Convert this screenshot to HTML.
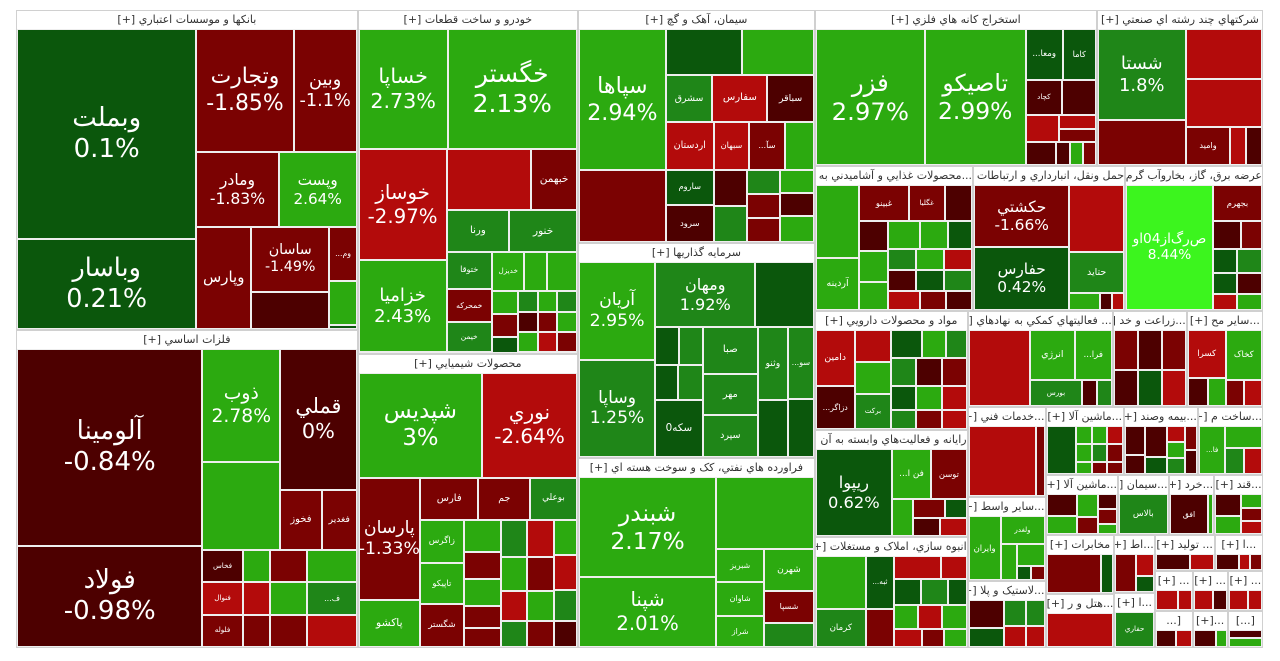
<!DOCTYPE html>
<html><head><meta charset="utf-8"><style>
html,body{margin:0;padding:0;background:#fff;width:1280px;height:661px;overflow:hidden}
#tm{position:absolute;left:16px;top:10px;width:1247px;height:638px;background:#e6e6e6}
.sec{position:absolute;box-sizing:border-box;border:1px solid #d0d0d0;background:#eee}
.hdr{position:absolute;left:0;right:0;top:0;height:18px;background:#fff;color:#333;font:11px "DejaVu Sans","Liberation Sans",sans-serif;line-height:18px;text-align:center;white-space:nowrap;overflow:hidden;direction:rtl}
.leaf{position:absolute;display:flex;flex-direction:column;align-items:center;justify-content:center;color:#fff;font-family:"DejaVu Sans","Liberation Sans",sans-serif;overflow:hidden;white-space:nowrap;line-height:1.2;text-align:center}
</style></head><body>
<div id="tm"></div>
<script>
const H=(...c)=>({d:'h',c});const V=(...c)=>({d:'v',c});const S=(t,hdr,n)=>({s:t,hdr:hdr,c:[n]});
const col1=V(
 S('بانکها و موسسات اعتباري [+]',65,
  H(V(['وبملت',0.1,376],['وباسار',0.21,162]),
    V(H(['وتجارت',-1.85,120],['وبين',-1.1,78]),
      H(['ومادر',-1.83,61],['وپست',2.64,58]),
      H(['وپارس',-1.76,56],V(['ساسان',-1.49,51],['',-0.5,29]),V(['...وم',-1.2,15],['...و',2.5,12],['',0.5,1]))))),
 S('فلزات اساسي [+]',65,
  H(V(['آلومينا',-0.84,365],['فولاد',-0.98,188]),
    V(H(V(['ذوب',2.78,88],['',2.5,68]),V(['قملي',0,108],H(['فخوز',-1.5,25],['فغدير',-1.3,21]))),
      H(V(['فخاس',-0.6,13],['فنوال',-2.5,13],['فلوله',-1.2,13]),V(['...م',2.4,9],['...فا',-2.5,9],['...ف',-1.5,9]),V(['...فج',-1.3,12],['',2.3,12],['',-1.1,12]),V(['',2.5,16],['...ف',1.2,16],['',-2.2,16]))))));
const col2=V(
 S('خودرو و ساخت قطعات [+]',42,
  V(H(['خساپا',2.73,107],['خگستر',2.13,156]),
    H(V(['خوساز',-2.97,98],['خزاميا',2.43,81]),
      V(H(['',-2.93,52],['خبهمن',-1.5,28]),H(['ورنا',1.5,26],['خنور',1.4,28]),
        H(V(['ختوقا',1.3,17],['خمحرکه',-1.4,15],['خيمن',1.2,14]),
          V(H(['خديزل',2.5,13],['خزر',2.3,9],['',2.4,12]),
            H(V(['...خ',2.2,6],['...خ',-1.8,6],['',0.5,4]),V(['',1.5,4],['',-0.8,4],['',2.5,4]),V(['',2.3,4],['',-1.2,4],['',-2.5,4]),V(['',1.3,4],['',2.4,4],['',-1.9,4])))))))),
 S('محصولات شيميايي [+]',42,
  V(H(['شپديس',3,130],['نوري',-2.64,100]),
    H(V(['پارسان',-1.33,75],['پاکشو',2.5,29]),
      V(H(['فارس',-1.5,25],['جم',-1.4,22],['بوعلي',1.5,20]),
        H(V(['زاگرس',2.3,19],['تاپيکو',2.4,18],['شگستر',-1.3,19]),
          V(['...ش',2.3,12],['...بار',-1.3,10],['...ش',2.2,10],['آريا',-1.2,8],['کلر',-1.4,7]),
          V(['...سو',1.3,10],['...پتر',2.5,9],['',-2.5,8],['',1.2,7]),
          V(['...ش',-2.5,10],['قرن',-1.5,9],['',2.2,8],['',-1.1,7]),
          V(['',2.4,8],['',-2.2,8],['',1.3,7],['',-0.7,6])))))));
const col3=V(
 S('سيمان، آهک و گچ [+]',45,
  H(V(['سپاها',2.94,123],['',-1.42,63]),
    V(H(['',0.5,35],['',2.5,33]),
      H(['سشرق',1.5,22],['سفارس',-2.5,26],['سباقر',-0.8,22]),
      H(['اردستان',-2.5,23],['سبهان',-2.3,17],['...سآ',-1.2,17],['',2.4,14]),
      H(V(['ساروم',0.6,17],['سرود',-0.7,18]),
        H(V(['',-0.7,12],['',1.5,12]),V(['',1.4,8],['',-1.2,8],['',-1.5,8]),V(['',2.3,8],['',-0.6,8],['',2.4,9])))))),
 S('سرمايه گذاريها [+]',45,
  H(V(['آريان',2.95,75],['وساپا',1.25,74]),
    V(H(['ومهان',1.92,65],['',0.6,38]),
      H(V(H(['',0.5,9],['',1.3,9]),H(['',0.6,8],['',1.2,9]),['سکه0',0.4,27]),
        V(['صبا',1.5,26],['مهر',1.4,23],['سپرد',1.3,23]),
        V(['وثنو',1.5,22],['',0.6,17]),
        V(['...سو',1.4,19],['',0.7,15]))))),
 S('فراورده هاي نفتي، کک و سوخت هسته اي [+]',45,
  H(V(['شبندر',2.17,138],['شپنا',2.01,97]),
    V(['',2.17,71],H(V(['شبريز',2.2,16],['شاوان',2.3,16],['شراز',2.2,15]),V(['شهرن',2.4,21],['شسپا',-1.4,16],['',1.2,12]))))));

const mining=S('استخراج کانه هاي فلزي [+]',53,
  H(['فزر',2.97,149],['تاصيکو',2.99,138],
    V(H(['...ومعا',0.6,19],['کاما',0.7,17]),
      H(['کچاد',-0.8,13],['...کرو',-0.7,12]),
      H(['کروي',-2.6,9],V(['',-2.4,5],['',-1.3,5])),
      H(['کگل',-0.6,7],H(['',-0.7,3],['',2.4,3],['',-1.3,3])))));
const multi=S('شرکتهاي چند رشته اي صنعتي [+]',31,
  H(V(['شستا',1.8,81],['',-1.34,40]),
    V(['',-2.56,39],['',-2.6,37],H(['واميد',-1,17],['',-2.3,6],['',-0.7,6]))));
const topRow=H(mining,multi);

const foodGrid=V(H(['...به',2.3,9],['...غ',2.2,8],['...غ',0.7,7]),H(['',1.4,6],['',2.2,6],['',-2.5,6]),H(['',-0.8,6],['',0.6,6],['',1.3,6]),H(['',-2.4,6],['',-1.3,5],['',-0.7,5]));
const food=S('...محصولات غذايي و آشاميدني به [+]',29,
  H(V(['',2.4,32],['آردينه',2.3,23]),
    V(H(['غبينو',-1.5,18],['غگليا',-1.4,13],['...غ',-0.7,10]),
      H(V(['...عا',-0.8,9],['...غ',2.3,9],['غادر',2.2,8]),foodGrid))));
const transport=S('حمل ونقل، انبارداري و ارتباطات [+]',29,
  H(V(['حکشتي',-1.66,60],['حفارس',0.42,60]),
    V(['',-2.4,37],['حتايد',1.5,23],H(['',2.3,5],['',-0.8,2],['',-2.4,2]))));
const util=S('عرضه برق، گاز، بخاروآب گرم [+]',26,
  H(['ص‌رگ‌از04او',8.44,110],
    V(['بجهرم',-1,18],H(['...ب',-0.7,8],['',-1.2,6]),H(['...م',0.6,6],['',1.4,6]),
      H(V(['',0.6,5],['',-2.5,4]),V(['',-0.8,5],['',2.3,4])))));
const midRow=H(food,transport,util);

const pharma=S('مواد و محصولات دارويي [+]',29,
  H(V(['دامين',-2.5,22],['...دزاگر',-0.6,17]),
    V(['هجرت',-2.3,12],['دکوثر',2.3,12],['برکت',1.3,13]),
    V(H(['...دتو',0.6,9],['...د',2.3,7],['',1.3,6]),H(['',1.4,7],['',-0.8,7],['',-1.2,7]),H(['',0.6,6],['',2.2,6],['',-2.3,6]),H(['',1.3,5],['',-1.4,5],['',-2.4,5]))));
const comp=S('رايانه و فعاليت‌هاي وابسته به آن [+]',29,
  H(['ريپوا',0.62,67],
    V(H(['...فن ا',2.3,20],['توسن',-1.2,18]),
      H(['',2.3,8],V(H(['',-1.2,6],['',0.6,4]),H(['',-0.8,5],['',-2.4,5]))))));
const constr=S('انبوه سازي، املاک و مستغلات [+]',29,
  H(V(['',2.3,27],['کرمان',1.4,19]),
    V(['...ثبه',0.6,15],['...ثاخ',-1.2,11]),
    V(H(['ثالوند',-2.4,11],['...ث',-2.3,6]),H(['',0.6,7],['',1.3,7],['',0.5,5]),H(['',2.3,6],['',-2.4,6],['',2.2,6]),H(['',-2.3,5],['',-1.2,4],['',2.4,4]))));
const leftStack=V(pharma,comp,constr);

const aux=S('... فعاليتهاي کمکي به نهادهاي [+]',27,
  H(['',-2.79,48],V(H(['انرژي',2.3,23],['...فرا',2.2,19]),H(['بورس',1.4,14],['',-0.8,4],['',1.3,4]))));
const zer=S('...زراعت و خد [+]',14,H(V(['',-1.2,10],['',-0.6,9]),V(['زفکا',-0.7,10],['...سز',0.6,9]),V(['...سز',-1.3,10],['',-2.3,9])));
const sayer=S('...ساير مح [+]',14,H(V(['کسرا',-2.3,19],H(['',-0.8,6],['',2.3,5])),V(['کخاک',2.3,19],H(['',-1.2,5],['',-2.4,5]))));
const row1=H(aux,zer,sayer);

const khadamat=S('...خدمات فني [+]',15,H(['',-2.82,48],['',-1.3,6]));
const vaset=S('...ساير واسط [+]',15,H(['وايران',2.3,21],V(['ولغدر',2.2,13],H(['',2.3,6],V(['...و',2.2,6],H(['',0.6,2],['',-1.2,2]))))));
const lastik=S('...لاستيک و پلا [+]',15,H(V(['پکوير',-0.7,10],['',0.6,7]),V(['',1.4,6],['',-2.4,5]),V(['',1.3,5],['',-2.5,4])));
const colA=V(khadamat,vaset,lastik);

const mash1=S('...ماشين آلا [+]',14,H(['...بترا',0.6,15],V(H(['',2.3,3],['',2.2,3],['',-2.4,3]),H(['',2.2,3],['',1.4,3],['',-1.3,3]),H(['',2.3,2],['',-1.2,2],['',-1.6,2]))));
const bime=S('...بيمه وصند [+]',14,H(V(['',-0.7,6],['',-0.8,4]),V(['',-0.7,7],['',0.6,4]),V(['',-2.4,3],['',2.3,3],['',1.3,3]),V(['',-1.2,3],['',-0.8,3])));
const sakht=S('...ساخت م [+]',13,H(['...فا',2.3,13],V(['',2.4,8],H(['',1.3,5],['',-2.4,5]))));
const rb1=H(mash1,bime,sakht);

const mash2=S('...ماشين آلا [+]',13,H(V(['',-0.7,7],['',2.3,6]),V(['',2.3,5],['',-1.2,4]),V(['',-0.7,3],['',-1.3,3],['',2.2,2])));
const simanS=S('...سيمان [+]',10,H(['بالاس',1.4,20]));
const khord=S('...خرد [+]',9,H(['افق',-0.7,16],['',2.3,2]));
const qand=S('...قند [+]',9,H(V(['',-0.8,6],['',2.3,5]),V(['',2.2,3],['',-1.2,3],['',-2.4,3])));
const rb2=H(mash2,simanS,khord,qand);

const r3a=V(S('مخابرات [+]',13,H(['',-1.3,22],['',0.6,5])),S('...هتل و ر [+]',13,H(['',-2.3,24])));
const r3b=V(S('...اط [+]',8,H(['...ا',-1.2,8],V(['',-2.3,4],['',0.6,3]))),S('...ا [+]',8,H(['حفاري',1.4,14])));
const r3c1=H(S('... توليد [+]',11,H(['',-0.7,6],['',-2.3,4])),S('...ا [+]',9,H(['',-0.7,4],['',-2.3,2],['',-1,2])));
const t1=V(S('... [+]',7,H(['',-2.4,5],['',-2.3,3])),S('[...',7,H(['',-0.8,4],['',-2.5,3])));
const t2=V(S('... [+]',7,H(['',-2.4,4],['',-0.6,3])),S('...[+]',7,H(['',-0.6,4],['',2.3,2])));
const t3=V(S('... [+]',7,H(['',-2.4,4],['',-2.3,3])),S('[...]',7,V(['',-0.6,3],['',2.3,3])));
const rb3=H(r3a,r3b,V(r3c1,H(t1,t2,t3)));

const restB=V(rb1,rb2,rb3);
const lower=H(colA,restB);
const rightArea=V(row1,lower);
const bottom=H(leftStack,rightArea);
const col4=V(topRow,midRow,bottom);
const tree=H(col1,col2,col3,col4);

function wt(n){if(Array.isArray(n))return n[2];if(n.s!==undefined)return n.hdr+wt(n.c[0]);return n.c.reduce((a,b)=>a+wt(b),0);}
function color(p){if(p>=5)return '#3cf51e';if(p>=2)return '#2caa10';if(p>=1)return '#1f8618';if(p>0)return '#0b570c';if(p>-1)return '#4d0000';if(p>-2)return '#7b0202';return '#b30b0b';}
const root=document.getElementById('tm');
function lay(n,x,y,w,h){
 if(Array.isArray(n)){
  const el=document.createElement('div');el.className='leaf';
  
  
  el.style.cssText='left:'+(x+1)+'px;top:'+(y+1)+'px;width:'+Math.max(0,w-2)+'px;height:'+Math.max(0,h-2)+'px;background:'+color(n[1]);
  if(n[0]){const len=Math.max(4,n[0].length);const fs=Math.min(26,(w-4)/(len*0.55),h/2.4,Math.sqrt(w*h)/5);
   if(fs>=7){el.style.fontSize=fs+'px';const a=document.createElement('div');a.textContent=n[0];el.appendChild(a);
    if(h>=fs*3.2&&w>=55&&fs>=11){const b=document.createElement('div');b.textContent=n[1]+'%';b.style.direction='ltr';el.appendChild(b);}}}
  root.appendChild(el);return;}
 if(n.s!==undefined){
  const el=document.createElement('div');el.className='sec';
  
  
  el.style.cssText='left:'+x+'px;top:'+y+'px;width:'+w+'px;height:'+h+'px';
  const hd=document.createElement('div');hd.className='hdr';hd.textContent=n.s;
  
  
  el.appendChild(hd);root.appendChild(el);
  lay(n.c[0],x+1,y+19,w-2,h-20);return;}
 const tot=wt(n);let off=0;
 n.c.forEach(c=>{const f=wt(c)/tot;
  if(n.d==='h'){lay(c,x+off,y,w*f,h);off+=w*f;}else{lay(c,x,y+off,w,h*f);off+=h*f;}});
}
lay(tree,0,0,1247,638);
</script>
</body></html>
